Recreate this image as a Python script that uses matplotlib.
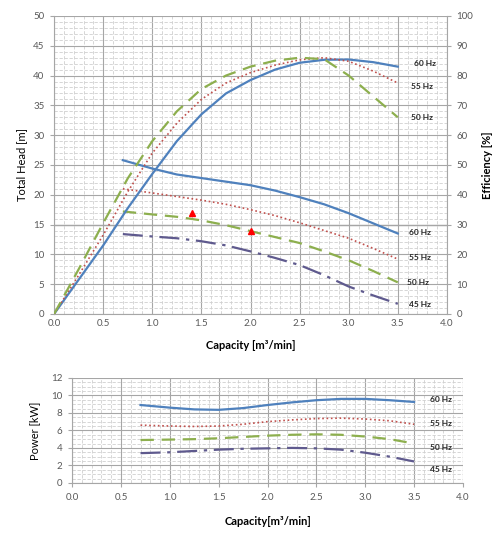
import numpy as np
import matplotlib
matplotlib.use("Agg")
import matplotlib.pyplot as plt
from matplotlib.ticker import MultipleLocator

plt.rcParams['font.family'] = ['Lato', 'DejaVu Sans']

# efficiency curves [%] vs capacity [m3/min]
q_eff = [0.0, 0.25, 0.5, 0.75, 1.0, 1.25, 1.5, 1.75, 2.0, 2.25, 2.5, 2.75, 3.0, 3.25, 3.5]
eff_60 = [0, 11.5, 23, 35.5, 47, 58, 67, 74, 78.5, 82, 84.3, 85.3, 85.4, 84.5, 83]
eff_55 = [0, 13, 26.5, 41, 54, 64, 72, 77.5, 81, 83.5, 85.3, 86, 84.8, 81.5, 77.5]
eff_50 = [0, 15, 30.5, 45.5, 58, 68, 75.5, 80, 83, 85, 86, 85.5, 80, 73, 66]

# head curves [m]
q = [0.7, 1.0, 1.25, 1.5, 1.75, 2.0, 2.25, 2.5, 2.75, 3.0, 3.25, 3.5]
head_60 = [25.8, 24.4, 23.4, 22.8, 22.2, 21.6, 20.7, 19.6, 18.4, 16.9, 15.2, 13.5]
head_55 = [21.0, 20.3, 19.7, 19.1, 18.4, 17.5, 16.5, 15.3, 14.0, 12.7, 11.0, 9.2]
head_50 = [17.2, 16.7, 16.3, 15.7, 14.9, 13.9, 12.9, 11.9, 10.5, 9.0, 7.2, 5.3]
head_45 = [13.4, 13.0, 12.7, 12.2, 11.5, 10.5, 9.4, 8.2, 6.5, 4.6, 3.1, 1.7]

# duty points
duty_q = [1.4, 2.0]
duty_h = [17.0, 13.9]

# power curves [kW]
pow_60 = [8.9, 8.6, 8.4, 8.35, 8.55, 8.9, 9.2, 9.45, 9.6, 9.6, 9.45, 9.25]
pow_55 = [6.6, 6.5, 6.45, 6.5, 6.7, 7.0, 7.2, 7.35, 7.4, 7.3, 7.1, 6.7]
pow_50 = [4.9, 4.95, 5.0, 5.1, 5.25, 5.4, 5.5, 5.55, 5.5, 5.3, 5.0, 4.5]
pow_45 = [3.4, 3.5, 3.65, 3.8, 3.9, 3.95, 4.0, 3.95, 3.8, 3.45, 3.0, 2.45]

C60, C55, C50, C45 = '#4F81BD', '#C0504D', '#8DAF4E', '#5F5A8E'
ST = {
    '60': dict(color=C60, lw=1.6, ls='-'),
    '55': dict(color=C55, lw=1.2, ls=(0, (1, 1.6))),
    '50': dict(color=C50, lw=1.6, ls=(0, (6, 3.5))),
    '45': dict(color=C45, lw=1.6, ls=(0, (9, 3, 1.5, 3))),
}
TICK = '#595959'


def style_axes(ax, ymin, ymax, ymaj, ymin_step):
    ax.set_xlim(0, 4)
    ax.set_ylim(ymin, ymax)
    ax.xaxis.set_major_locator(MultipleLocator(0.5))
    ax.xaxis.set_minor_locator(MultipleLocator(0.1))
    ax.yaxis.set_major_locator(MultipleLocator(ymaj))
    ax.yaxis.set_minor_locator(MultipleLocator(ymin_step))
    ax.grid(which='major', color='#A6A6A6', lw=0.8)
    ax.grid(which='minor', color='#D0D0D0', lw=0.6, ls=(0, (4, 2)))
    ax.set_axisbelow(True)
    ax.xaxis.set_major_formatter(lambda v, p: f"{v:.1f}")
    ax.tick_params(which='both', labelsize=7, colors=TICK, length=0, pad=4)
    ax.tick_params(which='major', axis='y', length=3, color='#A6A6A6')
    for s in ['top', 'right']:
        ax.spines[s].set_visible(False)
    for s in ['left', 'bottom']:
        ax.spines[s].set_color('#A6A6A6')


fig = plt.figure(figsize=(5.01, 5.33), dpi=100)

# top: head + efficiency
ax = fig.add_axes([0.108, 0.411, 0.784, 0.559])
style_axes(ax, 0, 50, 5, 1)
ax.axhline(15, color='#7F7F7F', lw=0.9, zorder=0.5)
ax.plot(q, head_60, **ST['60'])
ax.plot(q, head_55, **ST['55'])
ax.plot(q, head_50, **ST['50'])
ax.plot(q, head_45, **ST['45'])
ax.plot(duty_q, duty_h, ls='none', marker='^', color='#FF0000', ms=5)
ax.set_ylabel('Total Head [m]', fontsize=8, labelpad=4)
ax.set_xlabel('Capacity [m³/min]', fontsize=8, fontweight='bold', labelpad=8)

ax2 = ax.twinx()
ax2.set_ylim(0, 100)
ax2.yaxis.set_major_locator(MultipleLocator(10))
ax2.tick_params(labelsize=7, colors=TICK, length=3, pad=4)
ax2.tick_params(axis='y', color='#A6A6A6')
for s in ['top', 'left', 'bottom']:
    ax2.spines[s].set_visible(False)
ax2.spines['right'].set_color('#A6A6A6')
ax2.plot(q_eff, eff_60, **ST['60'])
ax2.plot(q_eff, eff_55, **ST['55'])
ax2.plot(q_eff, eff_50, **ST['50'])
ax2.set_ylabel('Efficiency [%]', fontsize=8, fontweight='bold', labelpad=6)

lab = dict(fontsize=6, fontweight='bold', color='#262626', ha='center', va='center')
ax2.text(3.78, 84, '60 Hz', **lab)
ax2.text(3.75, 76.5, '55 Hz', **lab)
ax2.text(3.75, 66, '50 Hz', **lab)
ax.text(3.73, 13.6, '60 Hz', **lab)
ax.text(3.73, 9.4, '55 Hz', **lab)
ax.text(3.71, 5.3, '50 Hz', **lab)
ax.text(3.73, 1.5, '45 Hz', **lab)

# bottom: power
bx = fig.add_axes([0.144, 0.094, 0.780, 0.197])
style_axes(bx, 0, 12, 2, 0.5)
bx.plot(q, pow_60, **ST['60'])
bx.plot(q, pow_55, **ST['55'])
bx.plot(q, pow_50, **ST['50'])
bx.plot(q, pow_45, **ST['45'])
bx.tick_params(which='major', axis='x', length=3, color='#A6A6A6')
bx.set_ylabel('Power [kW]', fontsize=8, labelpad=8)
bx.set_xlabel('Capacity[m³/min]', fontsize=8, fontweight='bold', labelpad=10)
bx.text(3.78, 9.5, '60 Hz', **lab)
bx.text(3.78, 6.8, '55 Hz', **lab)
bx.text(3.78, 4.1, '50 Hz', **lab)
bx.text(3.78, 1.5, '45 Hz', **lab)

fig.savefig('out.png', dpi=100, facecolor='white')
